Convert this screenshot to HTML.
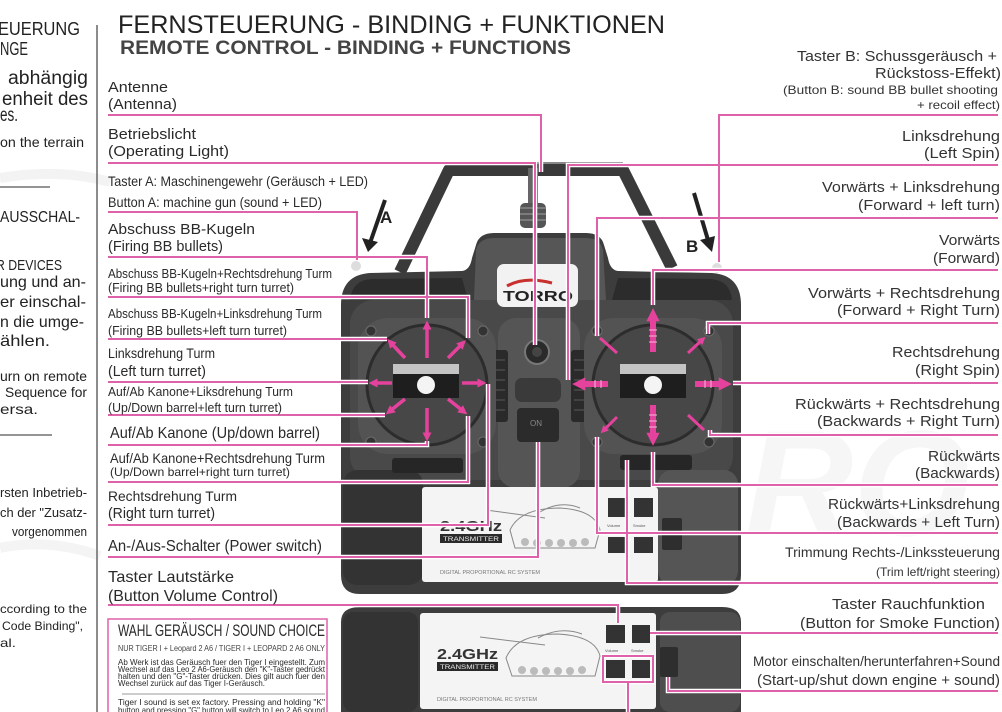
<!DOCTYPE html>
<html><head><meta charset="utf-8"><style>
html,body{margin:0;padding:0;background:#fff;}
svg{display:block;font-family:"Liberation Sans",Arial,sans-serif;}
</style></head><body>
<svg width="1002" height="712" viewBox="0 0 1002 712" xmlns="http://www.w3.org/2000/svg">
<defs>
<marker id="ah" viewBox="0 0 10 10" refX="4" refY="5" markerWidth="2.6" markerHeight="2.6" orient="auto"><path d="M0,0 L10,5 L0,10 z" fill="#e4429c"/></marker>
<marker id="ah2" viewBox="0 0 10 10" refX="4" refY="5" markerWidth="2.2" markerHeight="2.4" orient="auto"><path d="M0,0 L10,5 L0,10 z" fill="#e4429c"/></marker>
</defs>
<rect width="1002" height="712" fill="#fff"/>
<!-- faint watermark -->
<path d="M0,178 Q60,168 110,182" stroke="#f3f3f3" stroke-width="10" fill="none"/>
<path d="M0,548 Q50,538 100,556" stroke="#f4f4f4" stroke-width="10" fill="none"/>
<text x="745" y="535" font-size="150" font-weight="bold" font-style="italic" fill="#f6f6f6">RO</text>

<!-- left strip -->
<g fill="#222">
<text x="-2" y="35" font-size="18" textLength="82" lengthAdjust="spacingAndGlyphs">EUERUNG</text>
<text x="0" y="55" font-size="18" textLength="28" lengthAdjust="spacingAndGlyphs">NGE</text>
<text x="8" y="84" font-size="19" textLength="80" lengthAdjust="spacingAndGlyphs">abhängig</text>
<text x="2" y="105" font-size="19" textLength="86" lengthAdjust="spacingAndGlyphs">enheit des</text>
<text x="0" y="121" font-size="19" textLength="18" lengthAdjust="spacingAndGlyphs">es.</text>
<text x="0" y="147" font-size="14" textLength="84" lengthAdjust="spacingAndGlyphs">on the terrain</text>
<text x="0" y="222" font-size="16" textLength="80" lengthAdjust="spacingAndGlyphs">AUSSCHAL-</text>
<text x="-4" y="270" font-size="15" textLength="66" lengthAdjust="spacingAndGlyphs">R DEVICES</text>
<text x="0" y="287" font-size="16" textLength="86" lengthAdjust="spacingAndGlyphs">ung und an-</text>
<text x="0" y="307" font-size="16" textLength="86" lengthAdjust="spacingAndGlyphs">er einschal-</text>
<text x="0" y="327" font-size="16" textLength="84" lengthAdjust="spacingAndGlyphs">n die umge-</text>
<text x="0" y="346" font-size="16" textLength="50" lengthAdjust="spacingAndGlyphs">ählen.</text>
<text x="0" y="381" font-size="14" textLength="87" lengthAdjust="spacingAndGlyphs">urn on remote</text>
<text x="5" y="397" font-size="14" textLength="82" lengthAdjust="spacingAndGlyphs">Sequence for</text>
<text x="0" y="414" font-size="14" textLength="38" lengthAdjust="spacingAndGlyphs">ersa.</text>
<text x="0" y="497" font-size="13" textLength="87" lengthAdjust="spacingAndGlyphs">rsten Inbetrieb-</text>
<text x="0" y="517" font-size="13" textLength="87" lengthAdjust="spacingAndGlyphs">ch der "Zusatz-</text>
<text x="12" y="536" font-size="13" textLength="75" lengthAdjust="spacingAndGlyphs">vorgenommen</text>
<text x="0" y="613" font-size="12" textLength="87" lengthAdjust="spacingAndGlyphs">ccording to the</text>
<text x="2" y="630" font-size="12" textLength="81" lengthAdjust="spacingAndGlyphs">Code Binding",</text>
<text x="0" y="647" font-size="12" textLength="16" lengthAdjust="spacingAndGlyphs">al.</text>
</g>
<line x1="0" y1="187" x2="50" y2="187" stroke="#555" stroke-width="1.2"/>
<line x1="0" y1="435" x2="52" y2="435" stroke="#555" stroke-width="1.2"/>
<line x1="97" y1="25" x2="97" y2="712" stroke="#666" stroke-width="1.5"/>

<!-- header -->
<text x="118" y="33" font-size="25" textLength="547" lengthAdjust="spacingAndGlyphs" fill="#222">FERNSTEUERUNG - BINDING + FUNKTIONEN</text>
<text x="120" y="54" font-size="19" font-weight="bold" textLength="451" lengthAdjust="spacingAndGlyphs" fill="#444">REMOTE CONTROL - BINDING + FUNCTIONS</text>

<!-- ===== remote upper ===== -->
<path d="M400,272 L449,170 L623,170 L672,268" fill="none" stroke="#3a3a3a" stroke-width="12" stroke-linejoin="round"/>
<path d="M449,163 L623,163" stroke="#888" stroke-width="2"/>
<!-- antenna -->
<rect x="528" y="168" width="10" height="40" fill="#666"/>
<rect x="520" y="203" width="26" height="25" rx="5" fill="#555"/>
<g stroke="#888" stroke-width="1.5"><line x1="520" y1="208" x2="546" y2="208"/><line x1="520" y1="214" x2="546" y2="214"/><line x1="520" y1="220" x2="546" y2="220"/></g>
<!-- body -->
<path d="M341,305 Q341,275 370,273 L462,271 Q470,270 472,258 L476,245 Q479,233 494,233 L586,233 Q601,233 604,245 L608,258 Q610,270 618,271 L712,273 Q741,275 741,305 L741,575 Q741,594 722,594 L360,594 Q341,594 341,575 Z" fill="#3d3d3d"/>
<path d="M476,250 Q479,238 494,238 L586,238 Q600,238 603,250 L606,300 L474,300 Z" fill="#565656"/>
<path d="M350,300 Q352,280 372,279 L462,278 L468,300 Z" fill="#2c2c2c"/>
<path d="M612,300 L618,278 L710,279 Q730,280 732,300 Z" fill="#2c2c2c"/>
<rect x="350" y="300" width="383" height="180" rx="24" fill="#494949"/>
<rect x="343" y="470" width="80" height="115" rx="14" fill="#333"/>
<rect x="658" y="470" width="80" height="115" rx="14" fill="#555"/>
<!-- logo plate -->
<rect x="497" y="264" width="81" height="43" rx="7" fill="#f2f2f2"/>
<path d="M507,286 Q525,276 552,283" stroke="#c8302e" stroke-width="3" fill="none"/>
<text x="503" y="301" font-size="15" font-weight="bold" textLength="70" lengthAdjust="spacingAndGlyphs" fill="#222">TORRO</text>
<!-- center column -->
<rect x="498" y="318" width="82" height="170" rx="18" fill="#555"/>
<circle cx="537" cy="352" r="12" fill="#2a2a2a" stroke="#777" stroke-width="2"/>
<circle cx="537" cy="352" r="5" fill="#444"/>
<rect x="515" y="378" width="46" height="24" rx="7" fill="#3a3a3a"/>
<rect x="517" y="408" width="42" height="34" rx="4" fill="#2b2b2b"/>
<text x="530" y="426" font-size="8" fill="#888">ON</text>
<!-- trims -->
<rect x="492" y="350" width="16" height="72" rx="3" fill="#2a2a2a"/>
<rect x="571" y="350" width="16" height="72" rx="3" fill="#2a2a2a"/>
<g stroke="#5a5a5a" stroke-width="1">
<line x1="495" y1="360" x2="505" y2="360"/><line x1="495" y1="370" x2="505" y2="370"/><line x1="495" y1="380" x2="505" y2="380"/><line x1="495" y1="390" x2="505" y2="390"/><line x1="495" y1="400" x2="505" y2="400"/><line x1="495" y1="410" x2="505" y2="410"/>
<line x1="574" y1="360" x2="584" y2="360"/><line x1="574" y1="370" x2="584" y2="370"/><line x1="574" y1="380" x2="584" y2="380"/><line x1="574" y1="390" x2="584" y2="390"/><line x1="574" y1="400" x2="584" y2="400"/><line x1="574" y1="410" x2="584" y2="410"/>
</g>
<rect x="392" y="458" width="71" height="15" rx="3" fill="#262626"/>
<rect x="620" y="455" width="72" height="15" rx="3" fill="#262626"/>
<!-- left stick -->
<rect x="358" y="318" width="138" height="136" rx="30" fill="#535353"/>
<circle cx="427" cy="385" r="60" fill="#474747" stroke="#2c2c2c" stroke-width="3"/>
<g fill="#333" stroke="#6a6a6a"><circle cx="371" cy="331" r="5"/><circle cx="483" cy="331" r="5"/><circle cx="371" cy="442" r="5"/><circle cx="483" cy="442" r="5"/></g>
<rect x="393" y="364" width="66" height="11" fill="#c4c4c4"/>
<rect x="393" y="374" width="66" height="24" fill="#1e1e1e"/>
<circle cx="426" cy="385" r="9" fill="#f4f4f4"/>
<!-- right stick -->
<rect x="584" y="318" width="138" height="136" rx="30" fill="#535353"/>
<circle cx="653" cy="385" r="60" fill="#474747" stroke="#2c2c2c" stroke-width="3"/>
<g fill="#333" stroke="#6a6a6a"><circle cx="597" cy="331" r="5"/><circle cx="709" cy="331" r="5"/><circle cx="597" cy="442" r="5"/><circle cx="709" cy="442" r="5"/></g>
<rect x="620" y="364" width="66" height="11" fill="#c4c4c4"/>
<rect x="620" y="374" width="66" height="24" fill="#1e1e1e"/>
<circle cx="653" cy="385" r="9" fill="#f4f4f4"/>
<!-- buttons A/B -->
<circle cx="356" cy="266" r="5" fill="#ddd"/>
<circle cx="717" cy="268" r="5" fill="#ddd"/>
<!-- upper label panel -->
<rect x="422" y="487" width="236" height="95" rx="3" fill="#f4f4f4"/>
<text x="440" y="531" font-size="15" font-weight="bold" textLength="62" lengthAdjust="spacingAndGlyphs" fill="#333">2.4GHz</text>
<rect x="440" y="534" width="62" height="9" fill="#2a2a2a"/>
<text x="443" y="541" font-size="6" fill="#eee" textLength="56" lengthAdjust="spacingAndGlyphs">TRANSMITTER</text>
<text x="440" y="574" font-size="5" fill="#777" textLength="100" lengthAdjust="spacingAndGlyphs">DIGITAL PROPORTIONAL RC SYSTEM</text>
<g fill="none" stroke="#888" stroke-width="1">
<line x1="486" y1="510" x2="545" y2="518"/>
<path d="M510,530 Q520,508 560,508 Q595,510 600,530 L595,548 L515,548 Z"/>
<path d="M540,512 Q560,500 580,508"/>
</g>
<g fill="#bbb"><circle cx="525" cy="542" r="4"/><circle cx="537" cy="543" r="4"/><circle cx="549" cy="543" r="4"/><circle cx="561" cy="543" r="4"/><circle cx="573" cy="543" r="4"/><circle cx="585" cy="542" r="4"/></g>
<g fill="#333"><rect x="608" y="498" width="17" height="19"/><rect x="634" y="498" width="19" height="19"/><rect x="608" y="537" width="17" height="16"/><rect x="634" y="537" width="19" height="16"/></g>
<text x="607" y="527" font-size="4" fill="#555">Volume</text><text x="633" y="527" font-size="4" fill="#555">Smoke</text>
<rect x="662" y="518" width="20" height="32" rx="2" fill="#2e2e2e"/>

<!-- ===== remote lower ===== -->
<path d="M341,622 Q341,607 360,607 L722,607 Q741,607 741,622 L741,712 L341,712 Z" fill="#3d3d3d"/>
<rect x="343" y="612" width="75" height="100" rx="10" fill="#333"/>
<rect x="660" y="612" width="80" height="100" rx="10" fill="#4e4e4e"/>
<rect x="420" y="613" width="236" height="96" rx="3" fill="#f4f4f4"/>
<text x="437" y="659" font-size="15" font-weight="bold" textLength="61" lengthAdjust="spacingAndGlyphs" fill="#333">2.4GHz</text>
<rect x="437" y="662" width="61" height="9" fill="#2a2a2a"/>
<text x="440" y="669" font-size="6" fill="#eee" textLength="55" lengthAdjust="spacingAndGlyphs">TRANSMITTER</text>
<text x="437" y="701" font-size="5" fill="#777" textLength="100" lengthAdjust="spacingAndGlyphs">DIGITAL PROPORTIONAL RC SYSTEM</text>
<g fill="none" stroke="#888" stroke-width="1">
<line x1="480" y1="637" x2="545" y2="645"/>
<path d="M506,658 Q516,634 558,634 Q595,636 600,656 L595,676 L512,676 Z"/>
<path d="M538,638 Q560,626 582,634"/>
</g>
<g fill="#bbb"><circle cx="522" cy="670" r="4"/><circle cx="534" cy="671" r="4"/><circle cx="546" cy="671" r="4"/><circle cx="558" cy="671" r="4"/><circle cx="570" cy="671" r="4"/><circle cx="582" cy="670" r="4"/></g>
<g fill="#333"><rect x="606" y="625" width="19" height="18"/><rect x="632" y="625" width="18" height="18"/><rect x="606" y="660" width="19" height="18"/><rect x="632" y="660" width="18" height="18"/></g>
<text x="605" y="652" font-size="4" fill="#555">Volume</text><text x="631" y="652" font-size="4" fill="#555">Smoke</text>
<rect x="660" y="647" width="18" height="30" rx="2" fill="#2e2e2e"/>

<!-- A / B arrows -->
<line x1="385" y1="200" x2="370" y2="243" stroke="#222" stroke-width="4"/>
<path d="M362,238 L368,252 L378,242 Z" fill="#222"/>
<text x="380" y="223" font-size="17" font-weight="bold" fill="#222">A</text>
<line x1="694" y1="193" x2="708" y2="240" stroke="#222" stroke-width="4"/>
<path d="M700,240 L712,252 L715,236 Z" fill="#222"/>
<text x="686" y="252" font-size="17" font-weight="bold" fill="#222">B</text>

<!-- stick arrows left -->
<g stroke="#e4429c" stroke-width="3.5" marker-end="url(#ah)">
<line x1="427" y1="358" x2="427" y2="326"/>
<line x1="427" y1="408" x2="427" y2="436"/>
<line x1="392" y1="383" x2="374" y2="383"/>
<line x1="462" y1="383" x2="481" y2="383"/>
<line x1="405" y1="358" x2="391" y2="343"/>
<line x1="448" y1="358" x2="462" y2="344"/>
<line x1="405" y1="399" x2="390" y2="411"/>
<line x1="448" y1="399" x2="463" y2="411"/>
</g>
<!-- stick arrows right -->
<g stroke="#e4429c" stroke-width="6" marker-end="url(#ah2)">
<line x1="653" y1="352" x2="653" y2="316"/>
<line x1="653" y1="405" x2="653" y2="438"/>
<line x1="608" y1="384" x2="580" y2="384"/>
<line x1="695" y1="384" x2="724" y2="384"/>
</g>
<g stroke="#f7b8da" stroke-width="1">
<line x1="649" y1="330" x2="657" y2="330"/><line x1="649" y1="336" x2="657" y2="336"/><line x1="649" y1="342" x2="657" y2="342"/>
<line x1="649" y1="415" x2="657" y2="415"/><line x1="649" y1="421" x2="657" y2="421"/><line x1="649" y1="427" x2="657" y2="427"/>
<line x1="595" y1="380" x2="595" y2="388"/><line x1="601" y1="380" x2="601" y2="388"/>
<line x1="705" y1="380" x2="705" y2="388"/><line x1="711" y1="380" x2="711" y2="388"/>
</g>
<g stroke="#e4429c" stroke-width="3">
<line x1="617" y1="353" x2="600" y2="338"/>
<line x1="688" y1="415" x2="704" y2="430"/>
</g>
<g stroke="#e4429c" stroke-width="3" marker-end="url(#ah)">
<line x1="688" y1="353" x2="702" y2="340"/>
<line x1="617" y1="417" x2="604" y2="430"/>
</g>

<!-- pink connector lines -->
<g fill="none" stroke-linejoin="miter">
<path stroke="#fff" stroke-width="4.5" d="M108,115 H541 V172 M108,163 H535 V345 M108,212 H357 V260 M108,257 H427 V318 M108,297 H468 V338 M108,339 H387 M108,382 H368 M108,415 H385 M108,445 H427 V441 M108,482 H468 V416 M108,525 H488 V384 M108,557 H538 V442 M108,605 H618 V623 M998,115 H719 V262 M998,165 H568 V380 M998,218 H597 V336 M998,270 H653 V305 M998,323 H708 V334 M998,383 H733 M998,435 H710 V430 M998,485 H653 V452 M998,533 H597 V437 M998,583 H627 V460 M998,633 H650 M998,691 H668 V677 M603,656 H653 V682 H603 Z M628,682 V712"/>
<path stroke="#de62aa" stroke-width="2" d="M108,115 H541 V172 M108,163 H535 V345 M108,212 H357 V260 M108,257 H427 V318 M108,297 H468 V338 M108,339 H387 M108,382 H368 M108,415 H385 M108,445 H427 V441 M108,482 H468 V416 M108,525 H488 V384 M108,557 H538 V442 M108,605 H618 V623 M998,115 H719 V262 M998,165 H568 V380 M998,218 H597 V336 M998,270 H653 V305 M998,323 H708 V334 M998,383 H733 M998,435 H710 V430 M998,485 H653 V452 M998,533 H597 V437 M998,583 H627 V460 M998,633 H650 M998,691 H668 V677 M603,656 H653 V682 H603 Z M628,682 V712"/>
</g>

<!-- left labels -->
<g fill="#2a2a2a">
<text x="108" y="92" font-size="15" textLength="60" lengthAdjust="spacingAndGlyphs">Antenne</text>
<text x="108" y="109" font-size="15" textLength="69" lengthAdjust="spacingAndGlyphs">(Antenna)</text>
<text x="108" y="139" font-size="15" textLength="88" lengthAdjust="spacingAndGlyphs">Betriebslicht</text>
<text x="108" y="156" font-size="15" textLength="121" lengthAdjust="spacingAndGlyphs">(Operating Light)</text>
<text x="108" y="186" font-size="14" textLength="260" lengthAdjust="spacingAndGlyphs">Taster A: Maschinengewehr (Geräusch + LED)</text>
<text x="108" y="207" font-size="14" textLength="214" lengthAdjust="spacingAndGlyphs">Button A:  machine gun (sound + LED)</text>
<text x="108" y="234" font-size="15" textLength="147" lengthAdjust="spacingAndGlyphs">Abschuss BB-Kugeln</text>
<text x="108" y="251" font-size="15" textLength="115" lengthAdjust="spacingAndGlyphs">(Firing BB bullets)</text>
<text x="108" y="278" font-size="13" textLength="224" lengthAdjust="spacingAndGlyphs">Abschuss BB-Kugeln+Rechtsdrehung Turm</text>
<text x="108" y="292" font-size="13" textLength="186" lengthAdjust="spacingAndGlyphs">(Firing BB bullets+right turn turret)</text>
<text x="108" y="318" font-size="13" textLength="214" lengthAdjust="spacingAndGlyphs">Abschuss BB-Kugeln+Linksdrehung Turm</text>
<text x="108" y="335" font-size="13" textLength="179" lengthAdjust="spacingAndGlyphs">(Firing BB bullets+left turn turret)</text>
<text x="108" y="358" font-size="14" textLength="107" lengthAdjust="spacingAndGlyphs">Linksdrehung Turm</text>
<text x="108" y="376" font-size="15" textLength="98" lengthAdjust="spacingAndGlyphs">(Left turn turret)</text>
<text x="108" y="396" font-size="13" textLength="185" lengthAdjust="spacingAndGlyphs">Auf/Ab Kanone+Liksdrehung Turm</text>
<text x="108" y="412" font-size="13" textLength="174" lengthAdjust="spacingAndGlyphs">(Up/Down barrel+left turn turret)</text>
<text x="110" y="438" font-size="16" textLength="210" lengthAdjust="spacingAndGlyphs">Auf/Ab Kanone (Up/down barrel)</text>
<text x="110" y="463" font-size="14" textLength="215" lengthAdjust="spacingAndGlyphs">Auf/Ab Kanone+Rechtsdrehung Turm</text>
<text x="110" y="476" font-size="12" textLength="180" lengthAdjust="spacingAndGlyphs">(Up/Down barrel+right turn turret)</text>
<text x="108" y="501" font-size="14" textLength="129" lengthAdjust="spacingAndGlyphs">Rechtsdrehung Turm</text>
<text x="108" y="518" font-size="15" textLength="107" lengthAdjust="spacingAndGlyphs">(Right turn turret)</text>
<text x="108" y="551" font-size="16" textLength="214" lengthAdjust="spacingAndGlyphs">An-/Aus-Schalter (Power switch)</text>
<text x="108" y="582" font-size="16" textLength="126" lengthAdjust="spacingAndGlyphs">Taster Lautstärke</text>
<text x="108" y="601" font-size="16" textLength="170" lengthAdjust="spacingAndGlyphs">(Button Volume Control)</text>
</g>

<!-- right labels -->
<g fill="#333" text-anchor="end">
<text x="997" y="61" font-size="15" textLength="200" lengthAdjust="spacingAndGlyphs">Taster B: Schussgeräusch +</text>
<text x="1001" y="78" font-size="15" textLength="126" lengthAdjust="spacingAndGlyphs">Rückstoss-Effekt)</text>
<text x="998" y="94" font-size="12" textLength="215" lengthAdjust="spacingAndGlyphs">(Button B: sound BB bullet shooting</text>
<text x="1000" y="109" font-size="12" textLength="83" lengthAdjust="spacingAndGlyphs">+ recoil effect)</text>
<text x="1000" y="141" font-size="15" textLength="98" lengthAdjust="spacingAndGlyphs">Linksdrehung</text>
<text x="1000" y="158" font-size="15" textLength="76" lengthAdjust="spacingAndGlyphs">(Left Spin)</text>
<text x="1000" y="192" font-size="15" textLength="178" lengthAdjust="spacingAndGlyphs">Vorwärts + Linksdrehung</text>
<text x="1000" y="210" font-size="15" textLength="142" lengthAdjust="spacingAndGlyphs">(Forward + left turn)</text>
<text x="1000" y="245" font-size="15" textLength="61" lengthAdjust="spacingAndGlyphs">Vorwärts</text>
<text x="1000" y="263" font-size="15" textLength="67" lengthAdjust="spacingAndGlyphs">(Forward)</text>
<text x="1000" y="298" font-size="15" textLength="192" lengthAdjust="spacingAndGlyphs">Vorwärts + Rechtsdrehung</text>
<text x="1000" y="315" font-size="15" textLength="163" lengthAdjust="spacingAndGlyphs">(Forward + Right Turn)</text>
<text x="1000" y="357" font-size="15" textLength="108" lengthAdjust="spacingAndGlyphs">Rechtsdrehung</text>
<text x="1000" y="375" font-size="15" textLength="85" lengthAdjust="spacingAndGlyphs">(Right Spin)</text>
<text x="1000" y="409" font-size="15" textLength="205" lengthAdjust="spacingAndGlyphs">Rückwärts + Rechtsdrehung</text>
<text x="1000" y="426" font-size="15" textLength="183" lengthAdjust="spacingAndGlyphs">(Backwards + Right Turn)</text>
<text x="1000" y="461" font-size="15" textLength="72" lengthAdjust="spacingAndGlyphs">Rückwärts</text>
<text x="1000" y="478" font-size="15" textLength="85" lengthAdjust="spacingAndGlyphs">(Backwards)</text>
<text x="1000" y="509" font-size="15" textLength="172" lengthAdjust="spacingAndGlyphs">Rückwärts+Linksdrehung</text>
<text x="1000" y="527" font-size="15" textLength="163" lengthAdjust="spacingAndGlyphs">(Backwards + Left Turn)</text>
<text x="1000" y="557" font-size="14" textLength="215" lengthAdjust="spacingAndGlyphs">Trimmung Rechts-/Linkssteuerung</text>
<text x="1000" y="576" font-size="12" textLength="124" lengthAdjust="spacingAndGlyphs">(Trim left/right steering)</text>
<text x="985" y="609" font-size="15" textLength="153" lengthAdjust="spacingAndGlyphs">Taster Rauchfunktion</text>
<text x="1000" y="628" font-size="15" textLength="200" lengthAdjust="spacingAndGlyphs">(Button for Smoke Function)</text>
<text x="1000" y="666" font-size="14" textLength="247" lengthAdjust="spacingAndGlyphs">Motor einschalten/herunterfahren+Sound</text>
<text x="1000" y="685" font-size="15" textLength="243" lengthAdjust="spacingAndGlyphs">(Start-up/shut down engine + sound)</text>
</g>

<!-- sound choice box -->
<rect x="108" y="619" width="219" height="100" fill="#fff" stroke="#de62aa" stroke-width="1.5"/>
<g fill="#2a2a2a">
<text x="118" y="636" font-size="17" textLength="207" lengthAdjust="spacingAndGlyphs">WAHL GERÄUSCH / SOUND CHOICE</text>
<text x="118" y="651" font-size="8" textLength="207" lengthAdjust="spacingAndGlyphs" fill="#444">NUR TIGER I + Leopard 2 A6 / TIGER I + LEOPARD 2 A6 ONLY</text>
<text x="118" y="665" font-size="8.5" textLength="207" lengthAdjust="spacingAndGlyphs">Ab Werk ist das Geräusch fuer den Tiger I eingestellt. Zum</text>
<text x="118" y="672" font-size="8.5" textLength="207" lengthAdjust="spacingAndGlyphs">Wechsel auf das Leo 2 A6-Geräusch den "K"-Taster gedrückt</text>
<text x="118" y="679" font-size="8.5" textLength="207" lengthAdjust="spacingAndGlyphs">halten und den "G"-Taster drücken. Dies gilt auch fuer den</text>
<text x="118" y="686" font-size="8.5" textLength="147" lengthAdjust="spacingAndGlyphs">Wechsel zurück auf das Tiger I-Geräusch.</text>
<text x="118" y="705" font-size="8.5" textLength="207" lengthAdjust="spacingAndGlyphs">Tiger I sound is set ex factory. Pressing and holding  "K"</text>
<text x="118" y="713" font-size="8.5" textLength="207" lengthAdjust="spacingAndGlyphs">button and pressing "G" button will switch to Leo 2 A6 sound</text>
</g>
<line x1="122" y1="694" x2="325" y2="694" stroke="#999" stroke-width="1"/>
</svg>
</body></html>
